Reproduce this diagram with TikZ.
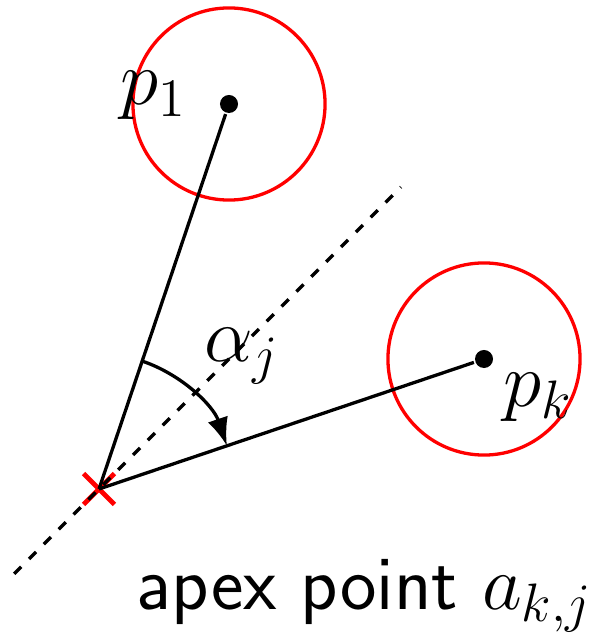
\documentclass[tikz,border=0pt]{standalone}
\usepackage{fix-cm}
\usepackage{amsmath}
\usepackage{tikz}
\usetikzlibrary{arrows.meta,shapes.misc,positioning,calc}

\begin{document}
\begin{tikzpicture}[x=0.01cm,y=0.01cm,line width=0.033cm,dot/.style={circle,fill=black,inner sep=0pt,minimum size=0.18cm},ring/.style={circle,draw=red,inner sep=0pt,minimum size=1.92cm},lbl/.style={inner sep=0pt,anchor=base west,font=\fontsize{22}{26}\selectfont},arr/.style={-{Latex[length=0.28cm,width=0.21cm]}},bis/.style={dash pattern=on 0.1cm off 0.11cm}]
\useasboundingbox (0,0) rectangle (603,633);
\node[cross out,draw=red,line width=0.048cm,inner sep=0pt,minimum size=0.26cm](a) at (99,144){};
\node[dot](p1) at (229,529){}; \node[ring](r1) at (p1){}; \node[dot](pk) at (484,274){}; \node[ring](rk) at (pk){};
\coordinate(b1) at ($(a.center)+(225:120)$); \coordinate(b2) at ($(a.center)+(45:427)$);
\node[lbl](l1) at (119,528){$p_1$}; \node[lbl](lk) at (502,226){$p_k$}; \node[lbl](al) at (203,271){$\alpha_j$};
\node[lbl](ap) at (135,23){\sffamily apex point $a_{k,j}$};
\draw[bis](b1)--(b2); \draw(a.center)--(p1); \draw(a.center)--(pk);
\draw[arr]([shift={(71.3:135)}]a.center) arc[start angle=71.3,end angle=18.7,radius=135];
\end{tikzpicture}
\end{document}
